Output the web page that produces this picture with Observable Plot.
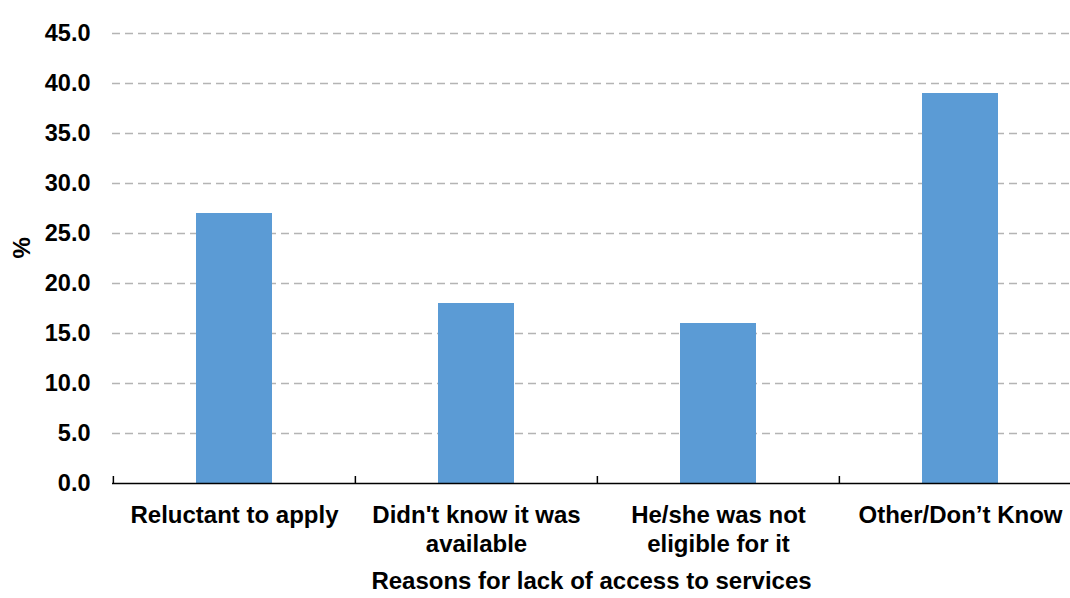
<!DOCTYPE html>
<html>
<head>
<meta charset="utf-8">
<script src="https://cdn.jsdelivr.net/npm/d3@7"></script>
<script src="https://cdn.jsdelivr.net/npm/@observablehq/plot@0.6"></script>
<style>
  html, body { margin: 0; padding: 0; background: #fff; }
</style>
</head>
<body>
<div id="chart"></div>
<script>
// Reasons for lack of access to services (%)
const categories = [
  "Reluctant to apply",
  "Didn't know it was\navailable",
  "He/she was not\neligible for it",
  "Other/Don’t Know"
];
const values = [27, 18, 16, 39];
const yTicks = [0, 5, 10, 15, 20, 25, 30, 35, 40, 45];

const rows = categories.map((c, i) => ({category: c, value: values[i]}));

const W = 1070, H = 598;
const FS = 24;
const xRange = [112, 1081];
const step = (xRange[1] - xRange[0]) / categories.length;

const chart = Plot.plot({
  width: W,
  height: H,
  marginLeft: 112,
  marginRight: 0,
  marginTop: 33,
  marginBottom: 115,
  style: {
    fontFamily: "'Liberation Sans', Arial, sans-serif",
    fontSize: FS + "px",
    fontWeight: "bold",
    color: "#000",
    background: "#fff"
  },
  x: {
    type: "band",
    domain: categories,
    range: xRange,
    paddingInner: 0.686,
    paddingOuter: 0.343
  },
  y: {
    domain: [0, 45],
    ticks: yTicks
  },
  marks: [
    Plot.gridY(yTicks.filter(t => t > 0), {
      stroke: "#b4b4b4",
      strokeOpacity: 1,
      strokeWidth: 1.5,
      strokeDasharray: "8,5"
    }),
    Plot.barY(rows, {x: "category", y: "value", fill: "#5b9bd5"}),
    Plot.ruleY([0], {stroke: "#000", strokeWidth: 1.5}),
    // category separators on the baseline
    Plot.ruleX(categories, {x: d => d, y1: 0, y2: 0.7, dx: -step / 2, stroke: "#000", strokeWidth: 1.5}),
    Plot.ruleX(categories.slice(-1), {x: d => d, y1: 0, y2: 0.7, dx: step / 2, stroke: "#000", strokeWidth: 1.5}),
    Plot.axisY(yTicks, {
      tickSize: 0,
      tickPadding: 22,
      tickFormat: d3.format(".1f"),
      label: null,
      fontSize: 23.5
    }),
    Plot.axisX({
      tickSize: 0,
      tickPadding: 18,
      lineHeight: 1.24,
      label: null,
      fontSize: FS
    }),
    Plot.text(["%"], {
      frameAnchor: "left",
      dx: -90,
      rotate: -90,
      fontSize: FS
    }),
    Plot.text(["Reasons for lack of access to services"], {
      frameAnchor: "bottom",
      dy: 105,
      fontSize: FS
    })
  ]
});

document.getElementById("chart").appendChild(chart);
</script>
</body>
</html>
